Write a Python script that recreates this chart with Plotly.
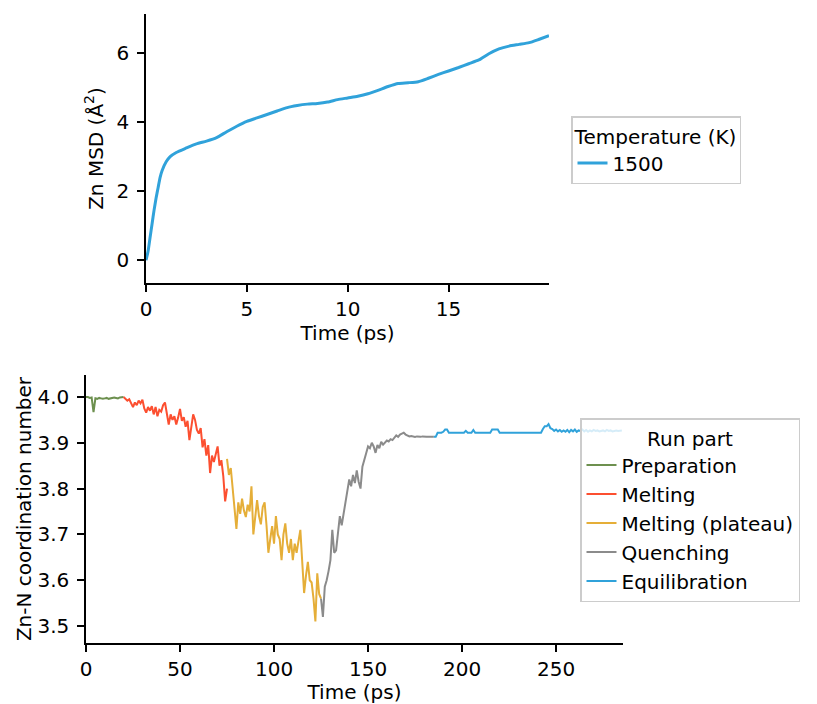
import plotly.graph_objects as go

# ---------------- data ----------------
msd_time = [0, 0.1, 0.2, 0.3, 0.4, 0.5, 0.6, 0.7, 0.8, 1.0, 1.2, 1.5, 2.0, 2.5, 3.0, 3.5,
            4.0, 4.5, 5.0, 5.5, 6.0, 6.5, 7.0, 7.5, 8.0, 8.5, 9.0, 9.5, 10.0, 10.5, 11.0,
            11.5, 12.0, 12.5, 13.0, 13.5, 14.0, 14.5, 15.0, 15.5, 16.0, 16.5, 17.0, 17.5,
            18.0, 18.5, 19.0, 19.5, 19.98]
msd_1500 = [0.0, 0.25, 0.65, 1.05, 1.45, 1.8, 2.1, 2.4, 2.6, 2.85, 3.0, 3.12, 3.25, 3.37, 3.45,
            3.55, 3.72, 3.88, 4.02, 4.12, 4.22, 4.32, 4.42, 4.48, 4.52, 4.54, 4.58, 4.65,
            4.70, 4.75, 4.82, 4.92, 5.03, 5.12, 5.14, 5.17, 5.27, 5.38, 5.48, 5.58, 5.69,
            5.80, 5.98, 6.12, 6.20, 6.25, 6.30, 6.40, 6.50]

prep_time = list(range(0, 21))
prep_cn = [4.000, 4.000, 3.998, 3.999, 3.967, 3.997, 3.996, 3.998, 3.997, 3.996, 3.997,
           3.998, 3.996, 3.997, 3.998, 3.999, 3.998, 3.997, 3.999, 4.000, 4.000]

melt_time = list(range(20, 76))
melt_cn = [4.000, 3.997, 3.992, 3.995, 3.985, 3.978, 3.988, 3.982, 3.992, 3.986,
           3.994, 3.975, 3.966, 3.978, 3.970, 3.980, 3.962, 3.978, 3.958, 3.972,
           3.968, 3.982, 3.988, 3.960, 3.940, 3.962, 3.950, 3.958, 3.940, 3.955,
           3.974, 3.948, 3.956, 3.935, 3.948, 3.906, 3.935, 3.962, 3.950, 3.928,
           3.920, 3.932, 3.890, 3.908, 3.872, 3.895, 3.834, 3.872, 3.858, 3.875,
           3.892, 3.850, 3.862, 3.828, 3.772, 3.800]

plat_time = list(range(75, 126))
plat_cn = [3.865, 3.830, 3.845, 3.800, 3.760, 3.712, 3.770, 3.745, 3.778, 3.752,
           3.738, 3.765, 3.750, 3.805, 3.700, 3.745, 3.775, 3.740, 3.722, 3.760,
           3.770, 3.720, 3.660, 3.690, 3.718, 3.680, 3.740, 3.700, 3.690, 3.644,
           3.700, 3.724, 3.680, 3.660, 3.690, 3.644, 3.680, 3.660, 3.690, 3.710,
           3.640, 3.572, 3.610, 3.640, 3.600, 3.595, 3.560, 3.510, 3.615, 3.570,
           3.560]

quench_time = list(range(125, 186))
quench_cn = [3.560, 3.520, 3.586, 3.600, 3.620, 3.644, 3.710, 3.660, 3.665, 3.700,
             3.740, 3.720, 3.745, 3.760, 3.790, 3.820, 3.805, 3.830, 3.812, 3.840,
             3.815, 3.800, 3.848, 3.860, 3.877, 3.892, 3.888, 3.900, 3.892, 3.878,
             3.895, 3.888, 3.902, 3.896, 3.900, 3.905, 3.903, 3.908, 3.906, 3.912,
             3.916, 3.913, 3.918, 3.920, 3.922, 3.918, 3.915, 3.914, 3.915, 3.914,
             3.913, 3.914, 3.913, 3.913, 3.914, 3.913, 3.913, 3.913, 3.913, 3.913,
             3.913]

equil_time = list(range(185, 286))
equil_cn = [3.913, 3.913, 3.922, 3.922, 3.922, 3.924, 3.929, 3.929, 3.922, 3.922,
            3.922, 3.922, 3.922, 3.922, 3.922, 3.922, 3.922, 3.926, 3.922, 3.922,
            3.922, 3.928, 3.922, 3.922, 3.922, 3.922, 3.922, 3.922, 3.922, 3.922,
            3.922, 3.929, 3.929, 3.929, 3.929, 3.922, 3.922, 3.922, 3.922, 3.922,
            3.922, 3.922, 3.922, 3.922, 3.922, 3.922, 3.922, 3.922, 3.922, 3.922,
            3.922, 3.922, 3.922, 3.922, 3.922, 3.922, 3.922, 3.922, 3.930, 3.936,
            3.936, 3.941, 3.932, 3.930, 3.926, 3.929, 3.925, 3.928, 3.924, 3.927,
            3.924, 3.928, 3.923, 3.928, 3.925, 3.929, 3.924, 3.927, 3.926, 3.929,
            3.925, 3.928, 3.924, 3.927, 3.925, 3.928, 3.926, 3.927, 3.925, 3.926,
            3.927, 3.925, 3.928, 3.926, 3.927, 3.925, 3.926, 3.927, 3.926, 3.926,
            3.927]

run_parts = ["Preparation", "Melting", "Melting (plateau)", "Quenching", "Equilibration"]
run_colors = ["#6d904f", "#fc4f30", "#e5ae38", "#8b8b8b", "#30a2da"]
run_data = [(prep_time, prep_cn), (melt_time, melt_cn), (plat_time, plat_cn),
            (quench_time, quench_cn), (equil_time, equil_cn)]

# ---------------- figure ----------------
FONT = "DejaVu Sans"
FS = 20
W, H = 817, 704

fig = go.Figure()

fig.add_trace(go.Scatter(
    x=msd_time, y=msd_1500, mode="lines", name="1500",
    line=dict(color="#30a2da", width=3, shape="spline", smoothing=0.6),
    xaxis="x", yaxis="y", legend="legend",
))

for name, color, (t, v) in zip(run_parts, run_colors, run_data):
    fig.add_trace(go.Scatter(
        x=t, y=v, mode="lines", name=name,
        line=dict(color=color, width=2),
        xaxis="x2", yaxis="y2", legend="legend2",
    ))

axis_common = dict(
    showline=True, linecolor="black", linewidth=1.5, mirror=False,
    ticks="outside", ticklen=7, tickwidth=1.5, tickcolor="black",
    showgrid=False, zeroline=False, automargin=False,
    tickfont=dict(family=FONT, size=FS, color="black"),
    title_font=dict(family=FONT, size=FS, color="black"),
)

def px_x(p):
    return p / W

def px_y(p):
    return (H - p) / H

fig.update_layout(
    width=W, height=H,
    margin=dict(l=0, r=0, t=0, b=0, autoexpand=False),
    plot_bgcolor="white", paper_bgcolor="white",
    font=dict(family=FONT, size=FS, color="black"),
    xaxis=dict(domain=[px_x(146), px_x(549)], range=[0, 19.98], anchor="y",
               tickvals=[0, 5, 10, 15], ticklabelstandoff=0,
               title=dict(text="Time (ps)", standoff=2),
               **axis_common),
    yaxis=dict(domain=[px_y(283), px_y(14)], range=[-0.66, 7.13], anchor="x",
               tickvals=[0, 2, 4, 6], ticklabelstandoff=4,
               title=dict(text="Zn MSD (Å<sup>2</sup>)", standoff=8),
               **axis_common),
    xaxis2=dict(domain=[px_x(86), px_x(623)], range=[0, 285.6], anchor="y2",
                tickvals=[0, 50, 100, 150, 200, 250], ticklabelstandoff=0,
                title=dict(text="Time (ps)", standoff=2),
                **axis_common),
    yaxis2=dict(domain=[px_y(643), px_y(375)], range=[3.463, 4.048], anchor="x2",
                tickvals=[3.5, 3.6, 3.7, 3.8, 3.9, 4.0], tickformat=".1f", ticklabelstandoff=4,
                title=dict(text="Zn-N coordination number", standoff=0),
                **axis_common),
    legend=dict(
        x=px_x(571), y=px_y(116), xanchor="left", yanchor="top",
        bgcolor="rgba(255,255,255,0.8)", bordercolor="#cccccc", borderwidth=1.5,
        font=dict(family=FONT, size=FS, color="black"),
        title=dict(text="Temperature (K)", side="top center",
                   font=dict(family=FONT, size=FS, color="black")),
    ),
    legend2=dict(
        x=px_x(580), y=px_y(418), xanchor="left", yanchor="top",
        bgcolor="rgba(255,255,255,0.8)", bordercolor="#cccccc", borderwidth=1.5,
        font=dict(family=FONT, size=FS, color="black"),
        title=dict(text="Run part", side="top center",
                   font=dict(family=FONT, size=FS, color="black")),
    ),
    showlegend=True,
)

fig.write_html(
    "out.html",
    config={"displayModeBar": False},
    post_script="document.body.style.margin='0';document.body.style.overflow='hidden';",
)
